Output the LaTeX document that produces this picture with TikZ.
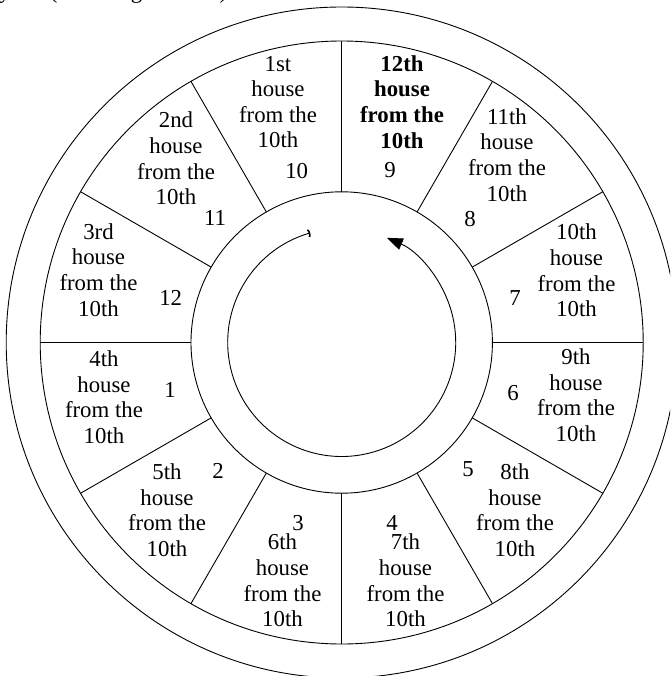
\documentclass[tikz,border=0pt]{standalone}
\usepackage{fontspec}
\setmainfont{Liberation Serif}
\usetikzlibrary{arrows.meta,calc}
\begin{document}
\begin{tikzpicture}[x=1pt,y=-1pt,
  ring/.style={draw=black,line width=0.9pt},
  divider/.style={draw=black,line width=0.9pt},
  housetext/.style={align=center,inner sep=0pt,font=\fontsize{22.8}{25.6}\selectfont},
  numtext/.style={inner sep=0pt,font=\fontsize{22.8}{25.6}\selectfont},
  cycle arrow/.style={line width=0.9pt,{Arc Barb[length=2pt,width=9pt,line width=1.6pt]}-{Triangle[length=16pt,width=12pt]}}
]
\useasboundingbox (0,0) rectangle (670,676);
\clip (0,0) rectangle (670,676);
\coordinate (C) at (341.7,342.5);
% top fragment of a cut-off line (only descenders show)
\node[anchor=base west,inner sep=0pt,font=\fontsize{22.8}{25.6}\selectfont] (frag) at (-1,-1.5) {y the (Counting in order)};
% rings
\draw[ring] (C) circle[radius=335.5];
\draw[ring] (C) circle[radius=301.5];
\draw[ring] (C) circle[radius=150.7];
% dividers
\foreach \a in {0,30,...,330}
  \draw[divider] ($(C)+(\a:150.7)$) -- ($(C)+(\a:301.5)$);
% inner cycle arrow
\coordinate (S) at ($(C)+(-106:114)$);
\draw[cycle arrow] (S) arc[start angle=-106, end angle=-426.7, radius=114];
% house labels
\node[housetext] (h1) at (278,102) {1st\\house\\from the\\10th};
\node[housetext,font=\fontsize{22.8}{25.6}\selectfont\bfseries] (h12) at (402,102) {12th\\house\\from the\\10th};
\node[housetext] (h11) at (507,155) {11th\\house\\from the\\10th};
\node[housetext] (h10) at (576.5,270.5) {10th\\house\\from the\\10th};
\node[housetext] (h9) at (576,395) {9th\\house\\from the\\10th};
\node[housetext] (h8) at (515,510) {8th\\house\\from the\\10th};
\node[housetext] (h7) at (405.5,580.5) {7th\\house\\from the\\10th};
\node[housetext] (h6) at (282.5,580.5) {6th\\house\\from the\\10th};
\node[housetext] (h5) at (167,510) {5th\\house\\from the\\10th};
\node[housetext] (h4) at (104,397) {4th\\house\\from the\\10th};
\node[housetext] (h3) at (98.5,270) {3rd\\house\\from the\\10th};
\node[housetext] (h2) at (176,158.5) {2nd\\house\\from the\\10th};
% numbers
\node[numtext] (n10) at (296.7,170.7) {10};
\node[numtext] (n9) at (390,170) {9};
\node[numtext] (n8) at (470,219) {8};
\node[numtext] (n7) at (515,298) {7};
\node[numtext] (n6) at (513,393) {6};
\node[numtext] (n5) at (468,469) {5};
\node[numtext] (n4) at (392,523) {4};
\node[numtext] (n3) at (298,523) {3};
\node[numtext] (n2) at (218,471) {2};
\node[numtext] (n1) at (170,390) {1};
\node[numtext] (n12) at (170.7,298) {12};
\node[numtext] (n11) at (215,218) {11};
\end{tikzpicture}
\end{document}
